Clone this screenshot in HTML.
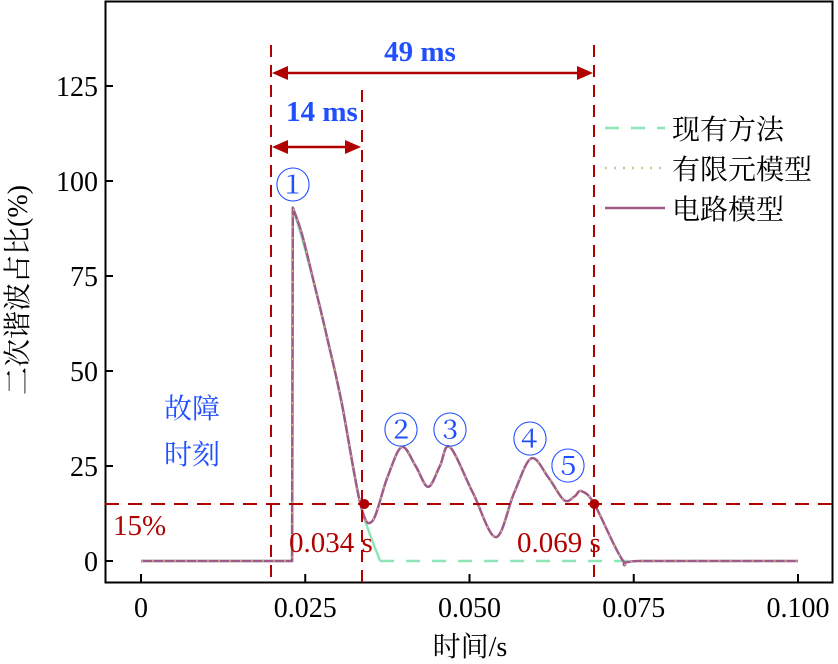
<!DOCTYPE html>
<html><head><meta charset="utf-8"><style>
body{margin:0;background:#fff}
svg{display:block;font-family:"Liberation Serif","Noto Serif CJK SC",serif}
</style></head><body>
<svg id="c" width="838" height="664" viewBox="0 0 838 664">
<rect x="105.5" y="1.5" width="727" height="581" fill="none" stroke="#000" stroke-width="2"/>
<g id="ticks"></g>
<g id="series"></g>
<g id="ann"></g>
<text x="27" y="290" transform="rotate(-90 27 290)" text-anchor="middle" font-size="28">二次谐波占比(%)</text>
<text x="470" y="656" text-anchor="middle" font-size="28">时间/s</text>
<g>
<line x1="605" y1="128" x2="665" y2="128" stroke="#8ee6b8" stroke-width="2.5" stroke-dasharray="14,12"/>
<text x="672" y="139" font-size="28">现有方法</text>
<line x1="605" y1="168" x2="665" y2="168" stroke="#d6c08c" stroke-width="2.5" stroke-dasharray="2,7"/>
<text x="672" y="179" font-size="28">有限元模型</text>
<line x1="605" y1="208" x2="665" y2="208" stroke="#a05a88" stroke-width="2.5"/>
<text x="672" y="219" font-size="28">电路模型</text>
</g>
</svg>
<script>
const xTicks=[0,0.025,0.05,0.075,0.1];
const xTickLabels=["0","0.025","0.050","0.075","0.100"];
const yTicks=[0,25,50,75,100,125];
const circuitT=[0,0.0230,0.0231,0.0245,0.0265,0.0283,0.0305,0.0334,0.0352,0.0375,0.0397,0.0418,0.0437,0.0455,0.0470,0.0505,0.0540,0.0568,0.0594,0.0620,0.0644,0.0660,0.0670,0.0690,0.0734,0.0760,0.100];
const circuitV=[0,0,93,86,72,59,42,15,10.5,22,30,25,19.5,25,30,18,6.3,18,27,22,16,17,18.4,15,0,0,0];
const existT=[0,0.0230,0.0231,0.0245,0.0265,0.0283,0.0305,0.0334,0.0364];
const existV=[0,0,93,85,72,59,42,15,0];
const existTailT=[0.0364,0.100];
const existTailV=[0,0];
const markerT=[0.034,0.069];
const markerV=[15,15];
const thresholdV=15;
const X=t=>141+t*6570, Y=v=>561-v*3.8;
const NS="http://www.w3.org/2000/svg";
function mk(tag,attrs,parent,txt){const e=document.createElementNS(NS,tag);for(const k in attrs)e.setAttribute(k,attrs[k]);if(txt!=null)e.textContent=txt;parent.appendChild(e);return e;}
const tk=document.getElementById('ticks');
xTicks.forEach((t,i)=>{
 const l=mk('line',{x1:X(t),x2:X(t),y1:582,y2:574,stroke:'#000','stroke-width':2},tk);
 
 
 const tx=mk('text',{x:X(t),y:617,'text-anchor':'middle','font-size':28},tk,xTickLabels[i]);
 
 
});
yTicks.forEach(v=>{
 const l=mk('line',{x1:105,x2:113,y1:Y(v),y2:Y(v),stroke:'#000','stroke-width':2},tk);
 
 
 const tx=mk('text',{x:98,y:Y(v)+10,'text-anchor':'end','font-size':28},tk,String(v));
 
 
});
const sg=document.getElementById('series');
function pathD(T,V,smoothFrom){
 const P=T.map((t,i)=>[X(t),Y(V[i])]);
 let d='M'+P[0][0].toFixed(1)+','+P[0][1].toFixed(1);
 for(let i=1;i<P.length;i++){
  if(i<=smoothFrom){d+=' L'+P[i][0].toFixed(1)+','+P[i][1].toFixed(1);continue;}
  const p0=P[Math.max(i-2,smoothFrom)],p1=P[i-1],p2=P[i],p3=P[Math.min(i+1,P.length-1)];
  const c1=[p1[0]+(p2[0]-p0[0])/6,p1[1]+(p2[1]-p0[1])/6];
  const c2=[p2[0]-(p3[0]-p1[0])/6,p2[1]-(p3[1]-p1[1])/6];
  d+=` C${c1[0].toFixed(1)},${c1[1].toFixed(1)} ${c2[0].toFixed(1)},${c2[1].toFixed(1)} ${p2[0].toFixed(1)},${p2[1].toFixed(1)}`;
 }
 return d;
}
const e1=mk('path',{d:pathD(existT,existV,2),fill:'none',stroke:'#8ee6b8','stroke-width':2.5},sg);


const e2=mk('path',{d:pathD(existTailT,existTailV,1),fill:'none',stroke:'#8ee6b8','stroke-width':2.5,'stroke-dasharray':'14,12'},sg);


const cd=pathD(circuitT,circuitV,2);
const c1=mk('path',{d:cd,fill:'none',stroke:'#a05a88','stroke-width':2.5,'stroke-linejoin':'round'},sg);


const f1=mk('path',{d:cd,fill:'none',stroke:'#d6c08c','stroke-width':1.2,'stroke-dasharray':'2,9'},sg);


const an=document.getElementById('ann');
const red='#b00000',blue='#1f4fff';
[[271,45,582],[362,90,582],[594,45,582]].forEach(a=>{
 const l=mk('line',{x1:a[0],x2:a[0],y1:a[1],y2:a[2],stroke:red,'stroke-width':2,'stroke-dasharray':'12,8'},an);
 
 
});
const th=mk('line',{x1:105,x2:833,y1:Y(thresholdV),y2:Y(thresholdV),stroke:red,'stroke-width':2,'stroke-dasharray':'14,9'},an);


markerT.forEach((t,i)=>{
 const c=mk('circle',{cx:X(t),cy:Y(markerV[i]),r:5,fill:red},an);
 
 
});
function arrow(x1,x2,y,name){
 const g=mk('g',{},an);
 
 
 mk('line',{x1:x1+10,x2:x2-10,y1:y,y2:y,stroke:red,'stroke-width':2.5},g);
 mk('polygon',{points:`${x1},${y} ${x1+16},${y-7} ${x1+16},${y+7}`,fill:red},g);
 mk('polygon',{points:`${x2},${y} ${x2-16},${y-7} ${x2-16},${y+7}`,fill:red},g);
}
arrow(272,593,73,'arrow-49ms');
arrow(272,361,147,'arrow-14ms');
function txt(x,y,s,fill,size,name,anchor,w){const t=mk('text',{x,y,fill,'font-size':size,'text-anchor':anchor||'start','font-weight':w||'normal'},an,s);}
txt(420,61,'49 ms',blue,29,'label-49ms','middle','bold');
txt(322,121,'14 ms',blue,29,'label-14ms','middle','bold');
txt(293,198,'①',blue,36,'peak-1-label','middle');
txt(401,443,'②',blue,36,'peak-2-label','middle');
txt(450,443,'③',blue,36,'peak-3-label','middle');
txt(530,452,'④',blue,36,'peak-4-label','middle');
txt(568,479,'⑤',blue,36,'peak-5-label','middle');
txt(192,418,'故障',blue,28,'fault-label-1','middle');
txt(192,464,'时刻',blue,28,'fault-label-2','middle');
txt(113,535,'15%',red,29,'threshold-label');
txt(289,552,'0.034 s',red,29,'time-label-034');
txt(517,552,'0.069 s',red,29,'time-label-069');
</script>
</body></html>
